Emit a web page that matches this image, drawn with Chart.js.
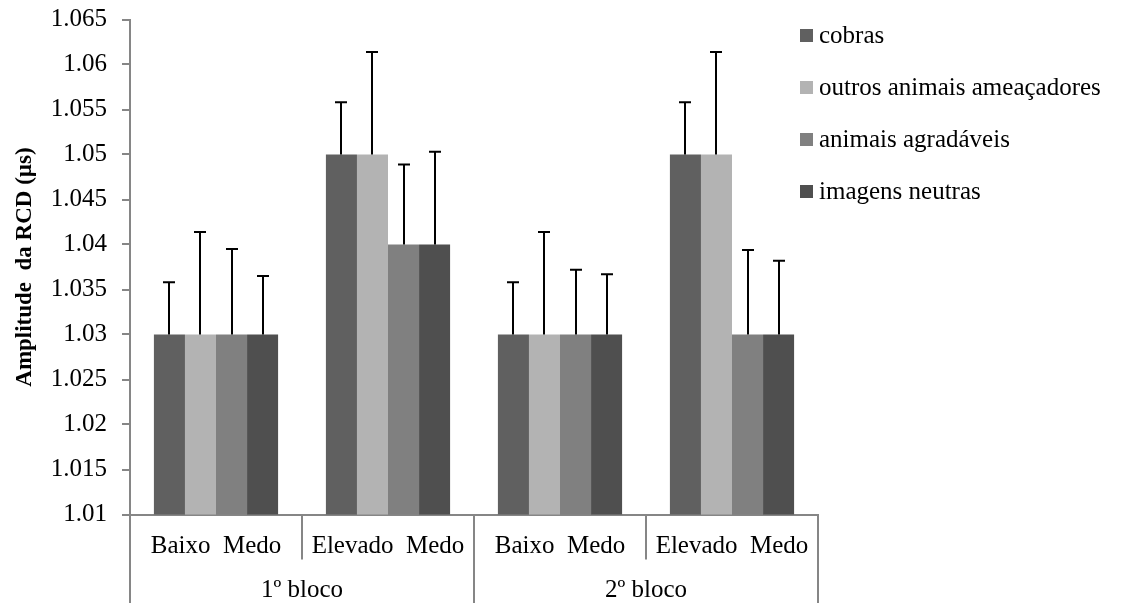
<!DOCTYPE html>
<html>
<head>
<meta charset="utf-8">
<script src="https://cdn.jsdelivr.net/npm/chart.js@4.4.1/dist/chart.umd.min.js"></script>
<style>
  html, body { margin: 0; padding: 0; background: #fff; }
  #wrap { width: 1126px; height: 603px; }
</style>
</head>
<body>
<div id="wrap"><canvas id="c" width="1126" height="603"></canvas></div>
<script>
// Categories (fear level) and their grouping into blocks
const categories = ['Baixo  Medo', 'Elevado  Medo', 'Baixo  Medo', 'Elevado  Medo'];
const blocks = ['1º bloco', '2º bloco'];

// Series names
const seriesNames = ['cobras', 'outros animais ameaçadores', 'animais agradáveis', 'imagens neutras'];

// Mean amplitude per category
const cobras     = [1.03, 1.05, 1.03, 1.05];
const outros     = [1.03, 1.05, 1.03, 1.05];
const agradaveis = [1.03, 1.04, 1.03, 1.03];
const neutras    = [1.03, 1.04, 1.03, 1.03];

// Upper error (added to the mean)
const errCobras     = [0.0058, 0.0058, 0.0058, 0.0058];
const errOutros     = [0.0114, 0.0114, 0.0114, 0.0114];
const errAgradaveis = [0.0095, 0.0089, 0.0072, 0.0094];
const errNeutras    = [0.0065, 0.0103, 0.0067, 0.0082];

// Y axis ticks
const yTicks = [1.01, 1.015, 1.02, 1.025, 1.03, 1.035, 1.04, 1.045, 1.05, 1.055, 1.06, 1.065];

const colors = ['#606060', '#b3b3b3', '#808080', '#4f4f4f'];
const seriesValues = [cobras, outros, agradaveis, neutras];
const seriesErrors = [errCobras, errOutros, errAgradaveis, errNeutras];

const FONT = 'Liberation Serif';
const AXIS = '#868686';

Chart.defaults.color = '#000';
Chart.defaults.font.family = FONT;

// Error bars, block labels, separators and legend
const extras = {
  id: 'extras',
  afterDatasetsDraw(chart) {
    const ctx = chart.ctx;
    const x = chart.scales.x, y = chart.scales.y;
    const area = chart.chartArea;
    const H = chart.height;

    // error bars
    ctx.save();
    ctx.strokeStyle = '#000';
    ctx.lineWidth = 2;
    chart.data.datasets.forEach((ds, di) => {
      const meta = chart.getDatasetMeta(di);
      meta.data.forEach((bar, i) => {
        const top = y.getPixelForValue(ds.data[i] + seriesErrors[di][i]);
        const cx = Math.round(bar.x);
        ctx.beginPath();
        ctx.moveTo(cx, bar.y);
        ctx.lineTo(cx, top);
        ctx.moveTo(cx - 6, top);
        ctx.lineTo(cx + 6, top);
        ctx.stroke();
      });
    });
    ctx.restore();

    // category separators below the axis
    const step = x.getPixelForValue(1) - x.getPixelForValue(0);
    ctx.save();
    ctx.strokeStyle = AXIS;
    ctx.lineWidth = 2;
    for (let i = 0; i <= categories.length; i++) {
      const bx = x.getPixelForValue(0) - step / 2 + i * step;
      const long = i % 2 === 0;
      ctx.beginPath();
      ctx.moveTo(bx, area.bottom);
      ctx.lineTo(bx, long ? H : area.bottom + 45);
      ctx.stroke();
    }
    ctx.restore();

    // block labels
    ctx.save();
    ctx.font = '25px "' + FONT + '"';
    ctx.fillStyle = '#000';
    ctx.textAlign = 'center';
    ctx.textBaseline = 'middle';
    blocks.forEach((b, k) => {
      const cx = (x.getPixelForValue(2 * k) + x.getPixelForValue(2 * k + 1)) / 2;
      ctx.fillText(b, cx, 590);
    });
    ctx.restore();

    // legend
    ctx.save();
    ctx.font = '25px "' + FONT + '"';
    ctx.textBaseline = 'middle';
    ctx.textAlign = 'left';
    chart.data.datasets.forEach((ds, di) => {
      const ly = 36 + di * 52;
      ctx.fillStyle = ds.backgroundColor;
      ctx.fillRect(800, ly - 7, 13, 13);
      ctx.fillStyle = '#000';
      ctx.fillText(ds.label, 819, ly);
    });
    ctx.restore();
  }
};

new Chart(document.getElementById('c'), {
  type: 'bar',
  data: {
    labels: categories,
    datasets: seriesNames.map((name, i) => ({
      label: name,
      data: seriesValues[i],
      backgroundColor: colors[i],
      borderWidth: 0,
      barPercentage: 1,
      categoryPercentage: 0.722
    }))
  },
  options: {
    responsive: false,
    animation: false,
    devicePixelRatio: 1,
    layout: { padding: { top: 19.5, right: 308, bottom: 0, left: 0 } },
    plugins: {
      legend: { display: false },
      tooltip: { enabled: false }
    },
    scales: {
      x: {
        grid: { display: false, drawTicks: false },
        border: { display: true, color: AXIS, width: 2 },
        ticks: { font: { size: 25, family: FONT }, padding: 17, maxRotation: 0, autoSkip: false },
        afterFit(s) { s.height = 88.5; }
      },
      y: {
        min: 1.01,
        max: 1.065,
        afterBuildTicks(s) { s.ticks = yTicks.map(v => ({ value: v })); },
        grid: { drawOnChartArea: false, drawTicks: true, tickLength: 8, color: AXIS, lineWidth: 2 },
        border: { display: true, color: AXIS, width: 2 },
        ticks: {
          font: { size: 25, family: FONT, lineHeight: 0.3 },
          padding: 15,
          callback: v => parseFloat(Number(v).toFixed(3)).toString()
        },
        title: {
          display: true,
          text: 'Amplitude  da RCD (µs)',
          font: { size: 23, weight: 'bold', family: FONT },
          padding: { top: 11, bottom: 0 }
        },
        afterFit(s) { s.width = 130; }
      }
    }
  },
  plugins: [extras]
});
</script>
</body>
</html>
